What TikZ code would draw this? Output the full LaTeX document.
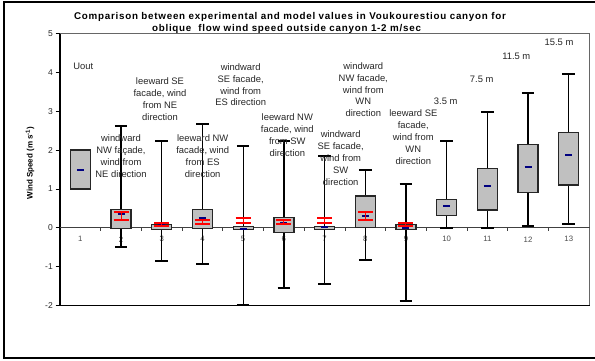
\documentclass[tikz,border=0pt]{standalone}
\usepackage{fontspec}
\setmainfont{Liberation Sans}
\newfontfamily\ttlfont[LetterSpace=7.7]{Liberation Sans}
\definecolor{navyc}{RGB}{0,0,128}
\definecolor{silverc}{RGB}{192,192,192}
\begin{document}
\begin{tikzpicture}[x=1pt,y=-1pt,
  whisk/.style={line width=1.3pt,black},
  capst/.style={line width=2pt,black},
  boxst/.style={draw=black!85,line width=1.3pt,fill=silverc},
  meanst/.style={line width=2pt,navyc},
  redst/.style={line width=2pt,red},
  redv/.style={line width=1pt,red},
  annot/.style={font=\fontsize{9.4}{11.9}\selectfont,text=black!85,align=center,inner sep=0pt},
  ttl/.style={font=\ttlfont\bfseries\fontsize{9.8}{11}\selectfont,inner sep=0pt},
  ytl/.style={font=\fontsize{8.5}{10}\selectfont,anchor=east,inner sep=0pt,text=black!85},
  xtl/.style={font=\fontsize{7.8}{9}\selectfont,inner sep=0pt,text=black!70}]
\useasboundingbox (0,0) rectangle (595,360);
% outer frame
\draw[line width=2.2pt] (4,2) rectangle (600,358);
% plot area
\draw[black!60,line width=0.9pt] (60,33.7) -- (589.5,33.7) -- (589.5,305.3);
\draw[black,line width=1.1pt] (60,33.7) -- (60,305.3) -- (589.5,305.3);
% y ticks and labels
\foreach \v in {-2,...,5}{
  \draw[line width=0.8pt] (55.5,{227.7-38.8*\v}) -- (60,{227.7-38.8*\v});
  \node[ytl] (yl\v) at (53,{227.7-38.8*\v}) {\v};
}
% x axis at zero
\draw[black!75,line width=0.9pt] (60,227.7) -- (589.5,227.7);
\foreach \k in {1,...,12}{
  \draw[black!75,line width=0.8pt] ({60+40.7*\k},227.7) -- ({60+40.7*\k},231);
}
\foreach \k in {1,...,13}{
  \node[xtl] (xl\k) at ({60+40.7*(\k-0.5)},239.3) {\k};
}
% box plots
\foreach \c/\wl/\bl/\bh/\wh/\m in {
  1/1/1/2/2/1.5,
  2/-0.49/-0.02/0.47/2.62/0.36,
  3/-0.87/-0.04/0.09/2.23/0.07,
  4/-0.93/-0.02/0.47/2.67/0.25,
  5/-2.0/-0.04/0.04/2.1/-0.03,
  6/-1.56/-0.13/0.26/2.23/0.12,
  7/-1.44/-0.04/0.04/1.85/0.03,
  8/-0.83/0/0.82/1.49/0.31,
  9/-1.88/-0.04/0.09/1.13/-0.01,
  10/0/0.31/0.73/2.23/0.57,
  11/0/0.46/1.52/2.97/1.08,
  12/0.05/0.91/2.14/3.46/1.57,
  13/0.1/1.1/2.45/3.96/1.87}{
  \pgfmathsetmacro\cx{60+40.7*(\c-0.5)}
  \draw[whisk] (\cx,{227.7-38.8*\wl}) -- (\cx,{227.7-38.8*\wh});
  \draw[capst] ({\cx-6.3},{227.7-38.8*\wl}) -- ({\cx+6.3},{227.7-38.8*\wl});
  \draw[capst] ({\cx-6.3},{227.7-38.8*\wh}) -- ({\cx+6.3},{227.7-38.8*\wh});
  \draw[boxst] ({\cx-10},{227.7-38.8*\bl}) rectangle ({\cx+10},{227.7-38.8*\bh});
  \draw[meanst] ({\cx-3.5},{227.7-38.8*\m}) -- ({\cx+3.5},{227.7-38.8*\m});
}
% red error bars
\foreach \c/\lo/\hi in {2/0.21/0.40, 3/0.05/0.13, 4/0.10/0.21, 5/0.13/0.24,
  6/0.10/0.21, 7/0.13/0.24, 8/0.21/0.40, 9/0.05/0.13}{
  \pgfmathsetmacro\cx{60+40.7*(\c-0.5)}
  \draw[redv] (\cx,{227.7-38.8*\lo}) -- (\cx,{227.7-38.8*\hi});
  \draw[redst] ({\cx-7.5},{227.7-38.8*\lo}) -- ({\cx+7.5},{227.7-38.8*\lo});
  \draw[redst] ({\cx-7.5},{227.7-38.8*\hi}) -- ({\cx+7.5},{227.7-38.8*\hi});
}
% title
\node[ttl] (t1) at (290,16.5) {Comparison between experimental and model values in Voukourestiou canyon for};
\node[ttl] (t2) at (286.5,28.5) {oblique~ flow wind speed outside canyon 1-2 m/sec};
% y label
\node[rotate=90,font=\bfseries\fontsize{8}{9.6}\selectfont,inner sep=0pt] (ylab) at (30,163) {Wind Speed (m s\textsuperscript{-1})};
% annotations
\node[annot] (uout) at (83.3,66) {Uout};
\node[annot] (a1) at (160,98.8) {leeward SE\\facade, wind\\from NE\\direction};
\node[annot] (a2) at (121,156.2) {windward\\NW façade,\\wind from\\NE direction};
\node[annot] (a3) at (202.7,156.2) {leeward NW\\facade, wind\\from ES\\direction};
\node[annot] (a4) at (240.7,84.7) {windward\\SE facade,\\wind from\\ES direction};
\node[annot] (a5) at (287.3,135) {leeward NW\\facade, wind\\from SW\\direction};
\node[annot] (a6) at (340.7,158) {windward\\SE facade,\\wind from\\SW\\direction};
\node[annot] (a7) at (363.3,89.7) {windward\\NW facade,\\wind from\\WN\\direction};
\node[annot] (a8) at (413.3,136.9) {leeward SE\\facade,\\wind from\\WN\\direction};
\node[annot] (h1) at (445.7,101) {3.5 m};
\node[annot] (h2) at (481.7,79) {7.5 m};
\node[annot] (h3) at (516.3,56) {11.5 m};
\node[annot] (h4) at (559,42.7) {15.5 m};
\end{tikzpicture}
\end{document}
